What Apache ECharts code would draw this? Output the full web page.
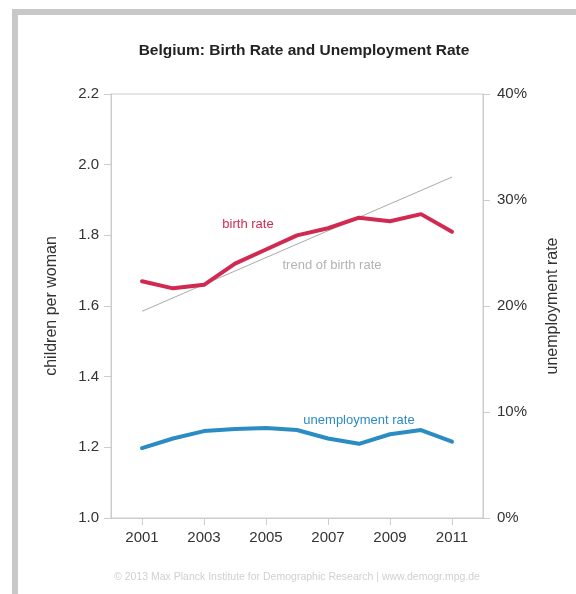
<!DOCTYPE html>
<html>
<head>
<meta charset="utf-8">
<script src="https://cdn.jsdelivr.net/npm/echarts@6/dist/echarts.min.js"></script>
<style>
html,body{margin:0;padding:0;background:#fff;}
#frameTop{position:absolute;left:12px;top:9px;width:564px;height:6px;background:#c8c8c8;}
#frameLeft{position:absolute;left:12px;top:9px;width:6px;height:585px;background:#c8c8c8;}
#chart{position:absolute;left:0;top:0;width:576px;height:594px;}
</style>
</head>
<body>
<div id="frameTop"></div>
<div id="frameLeft"></div>
<div id="chart"></div>
<script>
const years = [2001, 2002, 2003, 2004, 2005, 2006, 2007, 2008, 2009, 2010, 2011];
const birthRate = [1.67, 1.65, 1.66, 1.72, 1.76, 1.80, 1.82, 1.85, 1.84, 1.86, 1.81];
const unemploymentRate = [6.6, 7.5, 8.2, 8.4, 8.5, 8.3, 7.5, 7.0, 7.9, 8.3, 7.2];
const trendYears = [2001, 2011];
const trendValues = [1.585, 1.965];
const xTickLabels = [2001, 2003, 2005, 2007, 2009, 2011];
const leftTicks = ['1.0', '1.2', '1.4', '1.6', '1.8', '2.0', '2.2'];
const rightTicks = ['0%', '10%', '20%', '30%', '40%'];

const FONT = 'Liberation Sans, Arial, sans-serif';
const chart = echarts.init(document.getElementById('chart'), null, {renderer: 'canvas'});

const option = {
  backgroundColor: 'transparent',
  animation: false,
  textStyle: {fontFamily: FONT},
  title: {
    text: 'Belgium: Birth Rate and Unemployment Rate',
    left: 299, top: 38, textAlign: 'center',
    textStyle: {fontSize: 15.5, fontWeight: 'bold', color: '#222', fontFamily: FONT}
  },
  grid: {
    left: 111, right: 93, top: 94, bottom: 76,
    show: true, borderColor: '#cccccc', borderWidth: 1, backgroundColor: 'transparent'
  },
  xAxis: {
    type: 'value', min: 2000, max: 2012,
    splitLine: {show: false},
    axisLine: {lineStyle: {color: '#cccccc'}},
    axisTick: {show: true, length: 7, customValues: xTickLabels, lineStyle: {color: '#cccccc'}},
    axisLabel: {customValues: xTickLabels, margin: 12, fontSize: 15, color: '#333', fontFamily: FONT,
      formatter: v => String(v)}
  },
  yAxis: [
    {
      type: 'value', min: 1.0, max: 2.2, interval: 0.2, position: 'left',
      name: 'children per woman', nameLocation: 'middle', nameGap: 51, nameRotate: 90,
      nameTextStyle: {fontSize: 16, color: '#333', fontFamily: FONT},
      splitLine: {show: false},
      axisLine: {show: true, lineStyle: {color: '#cccccc'}},
      axisTick: {show: true, length: 7, lineStyle: {color: '#cccccc'}},
      axisLabel: {margin: 12, fontSize: 15, color: '#333', fontFamily: FONT,
        formatter: v => leftTicks[Math.round((v - 1.0) / 0.2)]}
    },
    {
      type: 'value', min: 0, max: 40, interval: 10, position: 'right',
      name: 'unemployment rate', nameLocation: 'middle', nameGap: 62, nameRotate: 90,
      nameTextStyle: {fontSize: 16, color: '#333', fontFamily: FONT},
      splitLine: {show: false},
      axisLine: {show: true, lineStyle: {color: '#cccccc'}},
      axisTick: {show: true, length: 7, lineStyle: {color: '#cccccc'}},
      axisLabel: {margin: 14, fontSize: 15, color: '#333', fontFamily: FONT,
        formatter: v => rightTicks[Math.round(v / 10)]}
    }
  ],
  series: [
    {
      name: 'trend of birth rate', type: 'line', yAxisIndex: 0,
      data: trendYears.map((y, i) => [y, trendValues[i]]),
      showSymbol: false, lineStyle: {color: '#aaaaaa', width: 1}, z: 1
    },
    {
      name: 'birth rate', type: 'line', yAxisIndex: 0,
      data: years.map((y, i) => [y, birthRate[i]]),
      showSymbol: false, lineStyle: {color: '#d12a52', width: 4, join: 'round', cap: 'round'}, z: 3
    },
    {
      name: 'unemployment rate', type: 'line', yAxisIndex: 1,
      data: years.map((y, i) => [y, unemploymentRate[i]]),
      showSymbol: false, lineStyle: {color: '#2b8cc3', width: 4, join: 'round', cap: 'round'}, z: 3
    }
  ],
  graphic: [
    {type: 'text', x: 248, y: 224, style: {text: 'birth rate', fill: '#d12a52', font: '13px ' + FONT, align: 'center', verticalAlign: 'middle'}},
    {type: 'text', x: 332, y: 265, style: {text: 'trend of birth rate', fill: '#b3b3b3', font: '13px ' + FONT, align: 'center', verticalAlign: 'middle'}},
    {type: 'text', x: 359, y: 420, style: {text: 'unemployment rate', fill: '#2b8cc3', font: '13px ' + FONT, align: 'center', verticalAlign: 'middle'}},
    {type: 'text', x: 297, y: 577, style: {text: '© 2013 Max Planck Institute for Demographic Research | www.demogr.mpg.de', fill: '#d0d0d0', font: '10.5px ' + FONT, align: 'center', verticalAlign: 'middle'}}
  ]
};
chart.setOption(option);
</script>
</body>
</html>
